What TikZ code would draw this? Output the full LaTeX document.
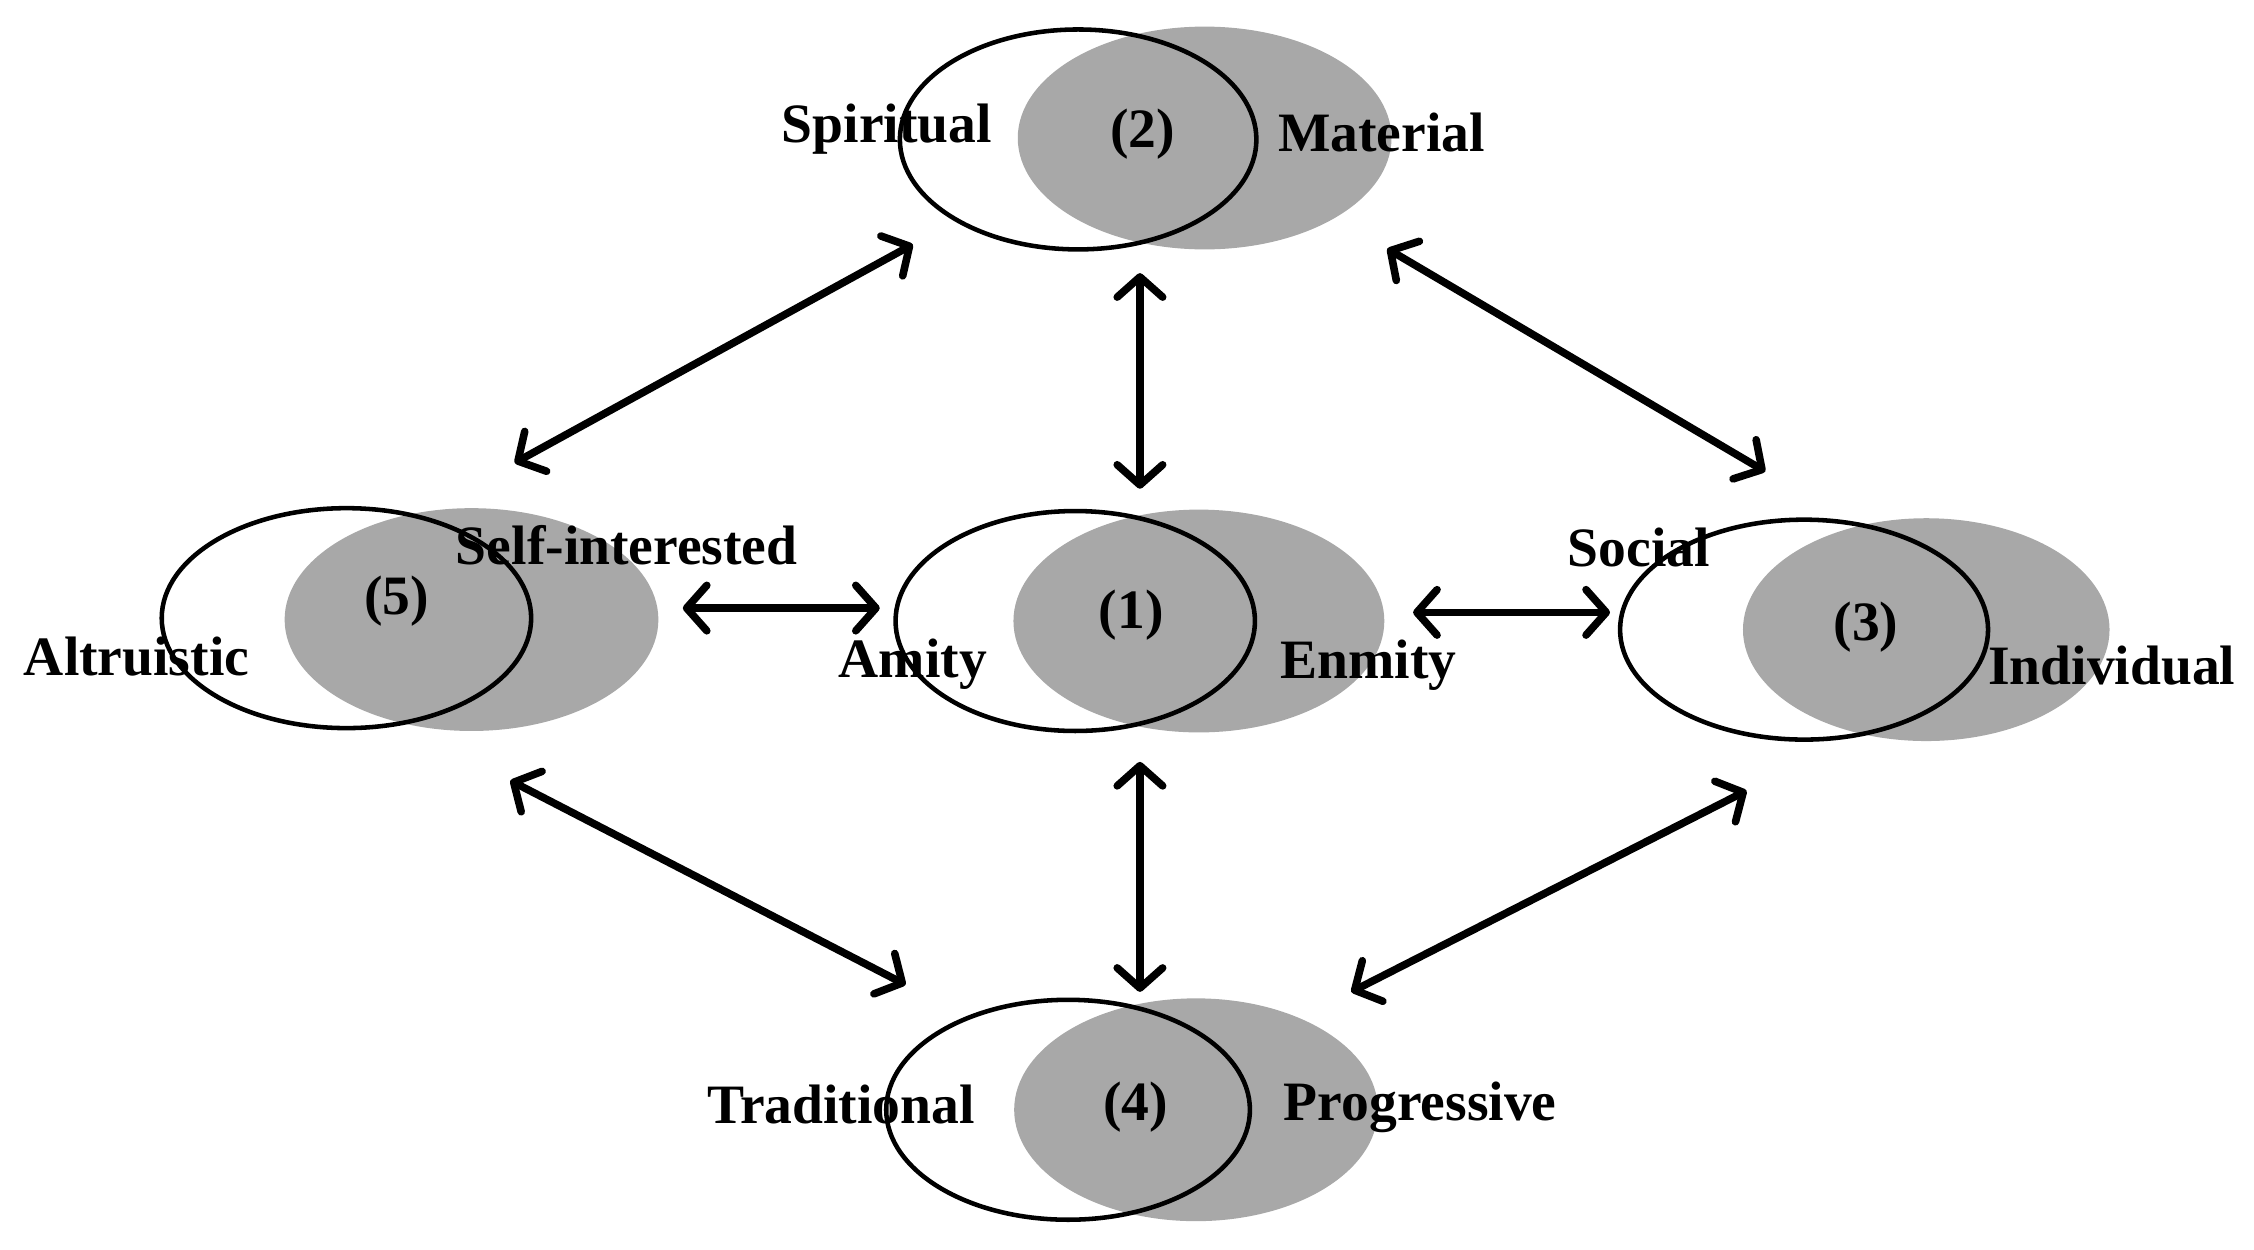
\documentclass[tikz,border=0pt]{standalone}
\usepackage{fontspec}
\setmainfont{Liberation Serif}
\usetikzlibrary{shapes.geometric,arrows.meta}
\definecolor{shade}{RGB}{168,168,168}
\begin{document}
\begin{tikzpicture}[x=0.02cm,y=-0.02cm,
  greyell/.style={shape=ellipse,fill=shade,draw=none,inner sep=0pt,minimum width=#1*0.02cm,minimum height=155*0.02cm},
  ringell/.style={shape=ellipse,draw=black,line width=1.8pt,inner sep=0pt,minimum width=#1*0.02cm,minimum height=153*0.02cm},
  lbl/.style={font=\fontsize{22}{26}\selectfont\bfseries,inner sep=0pt},
  link/.style={line width=3pt,line join=round,{Straight Barb[length=8pt,width=18pt,line join=round,line cap=round]}-{Straight Barb[length=8pt,width=18pt,line join=round,line cap=round]}}]
\useasboundingbox (0,0) rectangle (1568,869);
% group 2 (top)
\node[greyell=260] (g2) at (838,96) {};
\node[ringell=248] (r2) at (750,97) {};
\node[lbl] (n2) at (795,93) {(2)};
\node[lbl] (spi) at (617,90) {Spiritual};
\node[lbl] (mat) at (961,92) {Material};
% group 5 (left)
\node[greyell=260] (g5) at (328,431) {};
\node[ringell=257] (r5) at (241,430) {};
\node[lbl] (n5) at (276,418) {(5)};
\node[lbl] (self) at (436,379) {Self-interested};
\node[lbl] (alt) at (95,457) {Altruistic};
% group 1 (centre)
\node[greyell=258] (g1) at (834,432) {};
\node[ringell=250] (r1) at (748,432) {};
\node[lbl] (n1) at (787,428) {(1)};
\node[lbl] (ami) at (635,462) {Amity};
\node[lbl] (enm) at (952,463) {Enmity};
% group 3 (right)
\node[greyell=255] (g3) at (1340,438) {};
\node[ringell=256] (r3) at (1255,438) {};
\node[lbl] (n3) at (1298,436) {(3)};
\node[lbl] (soc) at (1140,381) {Social};
\node[lbl] (ind) at (1469,463) {Individual};
% group 4 (bottom)
\node[greyell=253] (g4) at (832,772) {};
\node[ringell=253] (r4) at (743,772) {};
\node[lbl] (n4) at (790,770) {(4)};
\node[lbl] (tra) at (585,768) {Traditional};
\node[lbl] (pro) at (988,770) {Progressive};
% arrow ends
\coordinate (a25) at (635,170); \coordinate (a52) at (358,322);
\coordinate (a23) at (965,173); \coordinate (a32) at (1228,328);
\coordinate (a21) at (793,190); \coordinate (a12) at (793,340);
\coordinate (a51) at (475,423); \coordinate (a15) at (612,423);
\coordinate (a13) at (983,426); \coordinate (a31) at (1120,426);
\coordinate (a54) at (355,543); \coordinate (a45) at (630,685);
\coordinate (a14) at (793,530); \coordinate (a41) at (793,690);
\coordinate (a34) at (1215,550); \coordinate (a43) at (940,690);
\draw[link] (a25) -- (a52);
\draw[link] (a23) -- (a32);
\draw[link] (a21) -- (a12);
\draw[link] (a51) -- (a15);
\draw[link] (a13) -- (a31);
\draw[link] (a54) -- (a45);
\draw[link] (a14) -- (a41);
\draw[link] (a34) -- (a43);
\end{tikzpicture}
\end{document}
